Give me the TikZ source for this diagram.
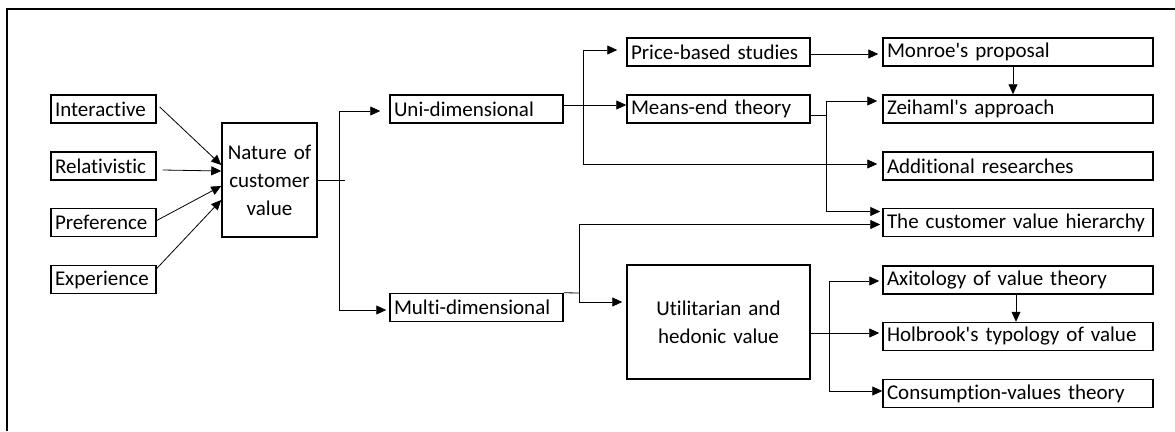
\documentclass[tikz,border=0pt]{standalone}
\usepackage{fontspec}
\setmainfont{Carlito}[Ligatures={NoCommon}]
\usetikzlibrary{arrows.meta}

\tikzset{
  box/.style={draw,line width=1.5pt,inner xsep=4pt,inner ysep=0pt,minimum height=28pt,align=left,font=\fontsize{21}{28}\selectfont},
  lbox/.style={box,text width=97pt},
  mbox/.style={box,text width=165pt},
  pbox/.style={box,text width=175pt},
  rbox/.style={box,text width=262pt},
  bigbox/.style={box,minimum height=114pt,align=center},
  arr/.style={-{Triangle[length=10pt,width=9pt]},line width=0.8pt},
  conn/.style={line width=0.8pt}
}

\begin{document}
\begin{tikzpicture}[x=1pt,y=-1pt]
\useasboundingbox (0,0) rectangle (1175,431);
\draw[line width=1.6pt] (7,431) -- (7,9) -- (1175,9);

\node[lbox] at (103.5,109) (int) {Interactive};
\node[lbox] at (103.5,166) (rel) {Relativistic};
\node[lbox] at (103.5,222.5) (pref) {Preference};
\node[lbox] at (103.5,279.5) (exp) {Experience};

\node[bigbox,text width=87pt] at (269.5,180) (nat) {Nature of\\customer\\value};

\node[mbox] at (476.5,109) (uni) {Uni-dimensional};
\node[mbox] at (476.5,307.5) (multi) {Multi-dimensional};

\node[pbox] at (718.5,52) (price) {Price-based studies};
\node[pbox] at (718.5,109) (means) {Means-end theory};
\node[bigbox,text width=175pt] at (718.5,322) (util) {Utilitarian and\\hedonic value};

\node[rbox] at (1018,52) (monroe) {Monroe\textquotesingle s proposal};
\node[rbox] at (1018,109) (zei) {Zeihaml\textquotesingle s approach};
\node[rbox] at (1018,166) (add) {Additional researches};
\node[rbox] at (1018,222.5) (hier) {The customer value hierarchy};
\node[rbox] at (1018,280) (axi) {Axitology of value theory};
\node[rbox] at (1018,336.5) (holb) {Holbrook\textquotesingle s typology of value};
\node[rbox] at (1018,393.5) (cons) {Consumption-values theory};

\draw[arr] ([xshift=3pt,yshift=2pt]int.east) -- ([yshift=15pt]nat.west);
\draw[arr] ([xshift=6pt,yshift=-4pt]rel.east) -- ([yshift=9pt]nat.west);
\draw[arr] ([yshift=2pt]pref.east) -- ([yshift=-6pt]nat.west);
\draw[arr] ([yshift=11pt]exp.east) -- ([yshift=-20pt]nat.west);

\coordinate (s1) at (339,180);
\draw[conn] (nat.east) -- ([xshift=6pt]s1);
\draw[arr,shorten >=9pt] (s1) |- ([yshift=-2pt]uni.west);
\draw[arr,shorten >=3pt] (s1) |- ([yshift=-2.5pt]multi.west);

\coordinate (s2) at (583,105);
\draw[arr] ([yshift=4pt]uni.east) -- ([yshift=4pt]means.west);
\draw[arr,shorten >=9pt] (s2) |- ([yshift=2pt]price.west);
\draw[arr,shorten >=5pt] (s2) |- ([yshift=2pt]add.west);

\draw[arr,shorten >=4pt] ([yshift=-2pt]price.east) -- ([yshift=-2pt]monroe.west);
\draw[arr] ([xshift=-5pt]monroe.south) -- ([xshift=-5pt]zei.north);

\coordinate (s3) at (826,115);
\draw[conn] ([yshift=-6pt]means.east) -- (s3);
\draw[arr,shorten >=5pt] (s3) |- ([yshift=8pt]zei.west);
\draw[arr,shorten >=2pt] (s3) |- ([yshift=11pt]hier.west);

\coordinate (s4) at (579,293);
\draw[conn] (multi.north east) -- (s4);
\draw[arr,shorten >=2pt] (s4) |- ([yshift=-2pt]hier.west);
\draw[arr,shorten >=4pt] (s4) |- ([yshift=20pt]util.west);

\coordinate (s5) at (829,333);
\draw[arr,shorten >=3pt] ([yshift=-11pt]util.east) -- ([yshift=3.5pt]holb.west);
\draw[arr,shorten >=3pt] (s5) |- ([yshift=-1pt]axi.west);
\draw[arr] (s5) |- ([yshift=2.5pt]cons.west);

\draw[arr] ([xshift=-2pt]axi.south) -- ([xshift=-2pt]holb.north);
\end{tikzpicture}
\end{document}
